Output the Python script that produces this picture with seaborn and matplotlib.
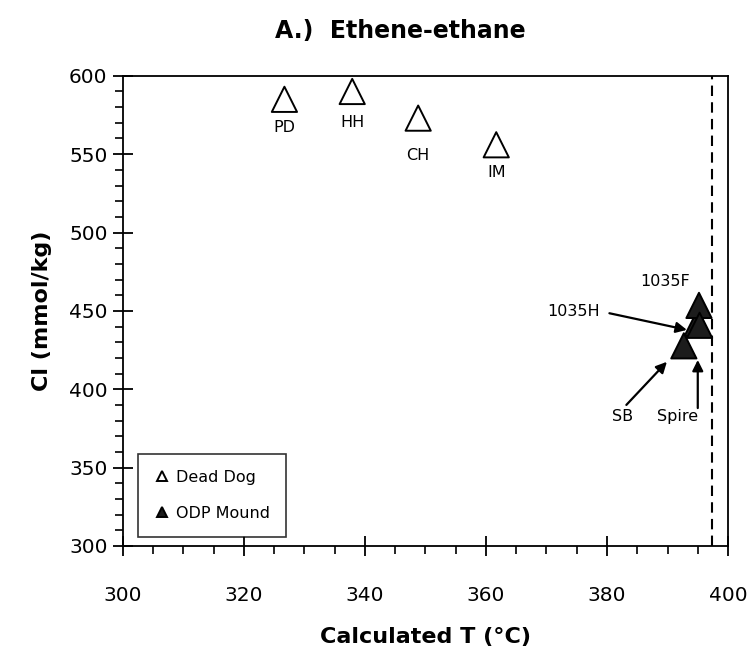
import numpy as np
import pandas as pd
import seaborn as sns
import matplotlib.pyplot as plt
from matplotlib.ticker import MultipleLocator

# data
dd_names = ['PD', 'HH', 'CH', 'IM']
dd_temp = [326.7, 337.9, 348.8, 361.7]
dd_cl = [585, 590, 573, 556]

# Spire sits behind the other mound points
odp_names = ['Spire', '1035F', '1035H', 'SB']
odp_temp = [394.9, 395.2, 395.3, 392.7]
odp_cl = [442, 453.5, 440.8, 427.7]

max_temp = 397.4

df = pd.DataFrame({
    'T': dd_temp + odp_temp,
    'Cl': dd_cl + odp_cl,
    'site': ['Dead Dog'] * len(dd_temp) + ['ODP Mound'] * len(odp_temp),
})

sns.set_style('ticks')
plt.rcParams['font.family'] = ['DejaVu Sans']
for k in ['text.color', 'axes.labelcolor', 'xtick.color', 'ytick.color', 'axes.edgecolor']:
    plt.rcParams[k] = 'black'

fig = plt.figure(figsize=(7.49, 6.65), dpi=100)
ax = fig.add_axes([0.164, 0.179, 0.808, 0.707])

sns.scatterplot(data=df, x='T', y='Cl', hue='site', style='site',
                markers={'Dead Dog': '^', 'ODP Mound': '^'},
                palette={'Dead Dog': 'white', 'ODP Mound': '#1c1c1c'},
                s=330, edgecolor='black', linewidth=1.4, ax=ax, zorder=3)

ax.axvline(max_temp, color='black', linestyle='--', linewidth=1.5, dashes=(5, 3))

# labels under the Dead Dog points
offsets = [20, 22, 27, 20]
for name, t, c, off in zip(dd_names, dd_temp, dd_cl, offsets):
    ax.annotate(name, (t, c), xytext=(0, -off), textcoords='offset points',
                ha='center', va='center', fontsize=11.5)

arrow = dict(arrowstyle='-|>', color='black', lw=1.6, mutation_scale=16,
             shrinkA=0, shrinkB=0)
ax.text(389.6, 468.5, '1035F', ha='center', va='center', fontsize=11.5)
ax.text(374.4, 449.4, '1035H', ha='center', va='center', fontsize=11.5)
ax.text(382.5, 382.4, 'SB', ha='center', va='center', fontsize=11.5)
ax.text(391.6, 382.4, 'Spire', ha='center', va='center', fontsize=11.5)
ax.annotate('', xy=(393.2, 437.9), xytext=(380.4, 448.5), arrowprops=arrow)
ax.annotate('', xy=(389.9, 417.5), xytext=(383.2, 390), arrowprops=arrow)
ax.annotate('', xy=(395.0, 418.7), xytext=(395.0, 388), arrowprops=arrow)

ax.set_xlim(300, 400)
ax.set_ylim(300, 600)
ax.xaxis.set_major_locator(MultipleLocator(20))
ax.xaxis.set_minor_locator(MultipleLocator(5))
ax.yaxis.set_major_locator(MultipleLocator(50))
ax.yaxis.set_minor_locator(MultipleLocator(10))
ax.tick_params(which='major', direction='inout', length=14, width=1.3, labelsize=14.5)
ax.tick_params(axis='x', which='major', pad=22)
ax.tick_params(axis='y', which='major', pad=4)
ax.tick_params(which='minor', direction='out', length=6, width=1.2)
for sp in ax.spines.values():
    sp.set_linewidth(1.3)

ax.set_xlabel('Calculated T (°C)', fontsize=16, fontweight='bold', labelpad=16)
ax.set_ylabel('Cl (mmol/kg)', fontsize=16, fontweight='bold', labelpad=12)
fig.suptitle('A.)  Ethene-ethane', x=0.535, y=0.972, fontsize=17, fontweight='bold')

leg = ax.legend(loc='lower left', fontsize=11.5, frameon=True, fancybox=False,
                edgecolor='black', markerscale=0.4, handletextpad=0.4,
                handlelength=1.0, borderpad=1.0, labelspacing=1.3,
                borderaxespad=0, bbox_to_anchor=(0.025, 0.02))
leg.get_frame().set_linewidth(1.2)
leg.set_title(None)

fig.savefig('out.png', dpi=100)
